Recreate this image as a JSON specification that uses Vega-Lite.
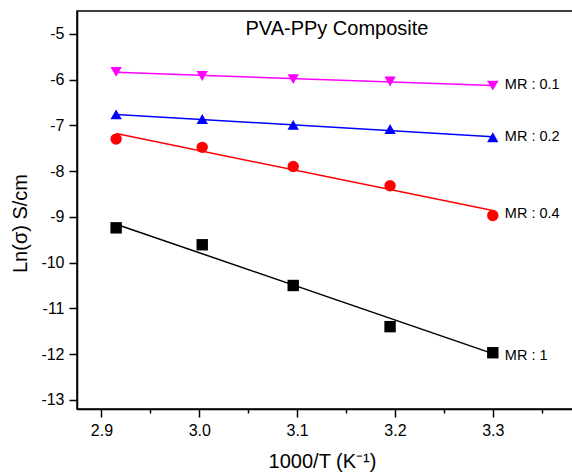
{
  "$schema": "https://vega.github.io/schema/vega-lite/v6.json",
  "width": 497,
  "height": 398,
  "autosize": "none",
  "padding": {"left": 77, "top": 11, "right": -2, "bottom": 63},
  "background": "white",
  "config": {
    "view": {"stroke": "black", "strokeWidth": 1.5},
    "font": "Liberation Sans",
    "axis": {
      "grid": false,
      "domainColor": "black",
      "domainWidth": 1.5,
      "tickColor": "black",
      "tickWidth": 1.5,
      "labelColor": "black",
      "titleColor": "black",
      "labelFont": "Liberation Sans",
      "titleFont": "Liberation Sans",
      "labelFontSize": 16,
      "titleFontSize": 20,
      "titleFontWeight": "normal"
    }
  },
  "datasets": {
    "points": [
      {"mr": "0.1", "invT": 2.915, "lnSigma": -5.83},
      {"mr": "0.1", "invT": 3.003, "lnSigma": -5.92},
      {"mr": "0.1", "invT": 3.096, "lnSigma": -5.99},
      {"mr": "0.1", "invT": 3.195, "lnSigma": -6.04},
      {"mr": "0.1", "invT": 3.3, "lnSigma": -6.13},
      {"mr": "0.2", "invT": 2.915, "lnSigma": -6.76},
      {"mr": "0.2", "invT": 3.003, "lnSigma": -6.86},
      {"mr": "0.2", "invT": 3.096, "lnSigma": -6.99},
      {"mr": "0.2", "invT": 3.195, "lnSigma": -7.08},
      {"mr": "0.2", "invT": 3.3, "lnSigma": -7.26},
      {"mr": "0.4", "invT": 2.915, "lnSigma": -7.3},
      {"mr": "0.4", "invT": 3.003, "lnSigma": -7.48},
      {"mr": "0.4", "invT": 3.096, "lnSigma": -7.9},
      {"mr": "0.4", "invT": 3.195, "lnSigma": -8.32},
      {"mr": "0.4", "invT": 3.3, "lnSigma": -8.97},
      {"mr": "1", "invT": 2.915, "lnSigma": -9.24},
      {"mr": "1", "invT": 3.003, "lnSigma": -9.61},
      {"mr": "1", "invT": 3.096, "lnSigma": -10.5},
      {"mr": "1", "invT": 3.195, "lnSigma": -11.4},
      {"mr": "1", "invT": 3.3, "lnSigma": -11.97}
    ],
    "fits": [
      {"mr": "0.1", "invT": 2.915, "lnSigma": -5.84},
      {"mr": "0.1", "invT": 3.3, "lnSigma": -6.13},
      {"mr": "0.2", "invT": 2.915, "lnSigma": -6.76},
      {"mr": "0.2", "invT": 3.3, "lnSigma": -7.25},
      {"mr": "0.4", "invT": 2.915, "lnSigma": -7.18},
      {"mr": "0.4", "invT": 3.3, "lnSigma": -8.86},
      {"mr": "1", "invT": 2.915, "lnSigma": -9.16},
      {"mr": "1", "invT": 3.3, "lnSigma": -11.99}
    ],
    "labels": [
      {"mr": "0.1", "invT": 3.3, "lnSigma": -6.12, "text": "MR : 0.1"},
      {"mr": "0.2", "invT": 3.3, "lnSigma": -7.26, "text": "MR : 0.2"},
      {"mr": "0.4", "invT": 3.3, "lnSigma": -8.94, "text": "MR : 0.4"},
      {"mr": "1", "invT": 3.3, "lnSigma": -12.04, "text": "MR : 1"}
    ],
    "heading": [
      {"invT": 3.1407, "lnSigma": -4.9, "text": "PVA-PPy Composite"}
    ]
  },
  "layer": [
    {
      "mark": {"type": "rule", "color": "black", "strokeWidth": 1.5},
      "encoding": {"y": {"datum": -4.5, "type": "quantitative"}}
    },
    {
      "data": {"name": "points"},
      "mark": {"type": "point", "filled": true, "opacity": 1},
      "encoding": {
        "x": {
          "field": "invT", "type": "quantitative",
          "scale": {"domain": [2.875, 3.383], "nice": false, "zero": false},
          "axis": {
            "orient": "bottom",
            "values": [2.9, 2.95, 3.0, 3.05, 3.1, 3.15, 3.2, 3.25, 3.3, 3.35],
            "labelExpr": "abs(round(datum.value * 10) - datum.value * 10) > 0.01 ? '' : format(datum.value, '.1f')",
            "tickSize": {"condition": {"test": "abs(round(datum.value * 10) - datum.value * 10) > 0.01", "value": 4}, "value": 8},
            "labelPadding": 5,
            "title": "1000/T (K⁻¹)",
            "titleAlign": "center",
            "titleBaseline": "middle",
            "titleX": 245,
            "titleY": 52
          }
        },
        "y": {
          "field": "lnSigma", "type": "quantitative",
          "scale": {"domain": [-13.2, -4.5], "nice": false, "zero": false},
          "axis": {
            "values": [-13, -12.5, -12, -11.5, -11, -10.5, -10, -9.5, -9, -8.5, -8, -7.5, -7, -6.5, -6, -5.5, -5],
            "labelExpr": "abs(round(datum.value) - datum.value) > 0.01 ? '' : '' + datum.value",
            "tickSize": {"condition": {"test": "abs(round(datum.value) - datum.value) > 0.01", "value": 4}, "value": 8},
            "labelPadding": 5,
            "title": "Ln(σ) S/cm",
            "titleAngle": 270,
            "titleAlign": "center",
            "titleBaseline": "middle",
            "titleX": -57,
            "titleY": 212
          }
        },
        "color": {
          "field": "mr", "type": "nominal", "legend": null,
          "scale": {"domain": ["0.1", "0.2", "0.4", "1"], "range": ["#ff00ff", "#0000ff", "#ff0000", "#000000"]}
        },
        "shape": {
          "field": "mr", "type": "nominal", "legend": null,
          "scale": {"domain": ["0.1", "0.2", "0.4", "1"], "range": ["triangle-down", "triangle-up", "circle", "square"]}
        },
        "size": {
          "field": "mr", "type": "nominal", "legend": null,
          "scale": {"domain": ["0.1", "0.2", "0.4", "1"], "range": [130, 130, 85, 80]}
        }
      }
    },
    {
      "data": {"name": "fits"},
      "mark": {"type": "line", "strokeWidth": 1.5},
      "encoding": {
        "x": {"field": "invT", "type": "quantitative"},
        "y": {"field": "lnSigma", "type": "quantitative"},
        "color": {"field": "mr", "type": "nominal", "legend": null}
      }
    },
    {
      "data": {"name": "labels"},
      "mark": {"type": "text", "align": "left", "baseline": "middle", "dx": 12, "fontSize": 14.5, "font": "Liberation Sans", "color": "black"},
      "encoding": {
        "x": {"field": "invT", "type": "quantitative"},
        "y": {"field": "lnSigma", "type": "quantitative"},
        "text": {"field": "text"}
      }
    },
    {
      "data": {"name": "heading"},
      "mark": {"type": "text", "align": "center", "baseline": "middle", "fontSize": 20, "font": "Liberation Sans", "color": "black"},
      "encoding": {
        "x": {"field": "invT", "type": "quantitative"},
        "y": {"field": "lnSigma", "type": "quantitative"},
        "text": {"field": "text"}
      }
    }
  ]
}
